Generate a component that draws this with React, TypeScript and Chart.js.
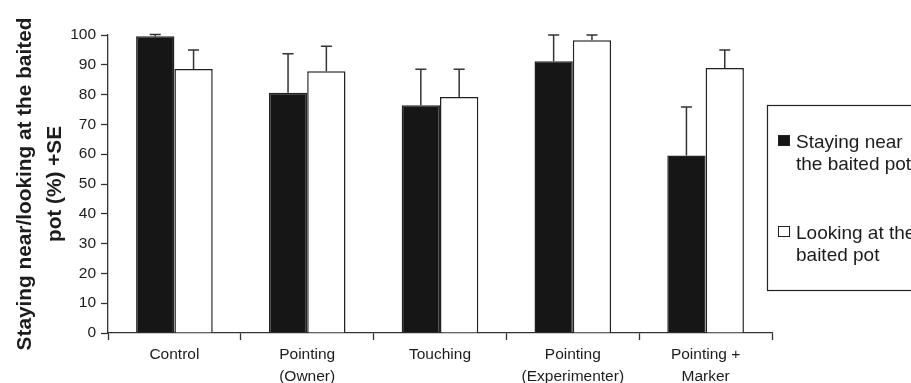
import React, { useEffect, useRef } from "react";
import { Chart, registerables } from "chart.js";

Chart.register(...registerables);

// Condition labels along the x axis (multi-line where wrapped)
const categories: string[][] = [
  ["Control"],
  ["Pointing", "(Owner)"],
  ["Touching"],
  ["Pointing", "(Experimenter)"],
  ["Pointing +", "Marker"],
];

// Mean percentages per condition
const stayingNear: number[] = [99.6, 80.6, 76.4, 91.2, 59.6];
const lookingAt: number[] = [88.6, 87.8, 79.2, 98.2, 88.9];

// Standard errors (drawn upward only)
const stayingNearSE: number[] = [0.6, 13.1, 12.1, 8.8, 16.2];
const lookingAtSE: number[] = [6.4, 8.4, 9.3, 1.8, 6.1];

// Legend text, one array of lines per series
const stayingNearLegend: string[] = ["Staying near", "the baited pot"];
const lookingAtLegend: string[] = ["Looking at the", "baited pot"];

// Y-axis title lines
const yTitle: string[] = ["Staying near/looking at the baited", "pot (%) +SE"];

const FONT = "'Liberation Sans', Arial, Helvetica, sans-serif";
const INK = "#1c1c1c";
const AXIS = "#333333";

const errorBarPlugin = {
  id: "errorBars",
  afterDatasetsDraw(chart: any) {
    const ctx = chart.ctx;
    const yScale = chart.scales.y;
    ctx.save();
    ctx.strokeStyle = AXIS;
    ctx.lineWidth = 1.5;
    chart.data.datasets.forEach((ds: any, i: number) => {
      const meta = chart.getDatasetMeta(i);
      meta.data.forEach((bar: any, j: number) => {
        const v = ds.data[j];
        const se = ds.se[j];
        const yTop = yScale.getPixelForValue(v + se);
        const yBar = yScale.getPixelForValue(v);
        const x = bar.x;
        ctx.beginPath();
        ctx.moveTo(x, yBar);
        ctx.lineTo(x, yTop);
        ctx.moveTo(x - 5.5, yTop);
        ctx.lineTo(x + 5.5, yTop);
        ctx.stroke();
      });
    });
    ctx.restore();
  },
};

const boxLegendPlugin = {
  id: "boxLegend",
  afterDraw(chart: any) {
    const ctx = chart.ctx;
    const area = chart.chartArea;
    const left = area.right - 5;
    const top = 105;
    const bottom = 290;
    ctx.save();
    ctx.strokeStyle = "#222";
    ctx.lineWidth = 1.2;
    ctx.strokeRect(left + 0.5, top + 0.5, 300, bottom - top);

    ctx.font = `19px ${FONT}`;
    ctx.textBaseline = "alphabetic";
    ctx.textAlign = "left";
    const rows = [
      { lines: chart.data.datasets[0].legendLines, y: 147.5 },
      { lines: chart.data.datasets[1].legendLines, y: 238.5 },
    ];
    rows.forEach((row, i) => {
      const ds = chart.data.datasets[i];
      const sx = left + 11;
      const sy = row.y - 12.5;
      ctx.fillStyle = ds.backgroundColor;
      ctx.fillRect(sx, sy, 12, 11);
      ctx.strokeStyle = "#222";
      ctx.lineWidth = 1;
      ctx.strokeRect(sx + 0.5, sy + 0.5, 11, 10);
      ctx.fillStyle = INK;
      row.lines.forEach((line: string, k: number) => {
        ctx.fillText(line, left + 29, row.y + k * 22.5);
      });
    });
    ctx.restore();
  },
};

function BarChart() {
  const canvasRef = useRef<HTMLCanvasElement | null>(null);

  useEffect(() => {
    if (!canvasRef.current) return;
    const chart = new Chart(canvasRef.current, {
      type: "bar",
      data: {
        labels: categories,
        datasets: [
          {
            label: stayingNearLegend.join(" "),
            data: stayingNear,
            se: stayingNearSE,
            legendLines: stayingNearLegend,
            backgroundColor: "#161616",
            borderColor: "#222",
            borderWidth: 1.5,
            barPercentage: 1,
            categoryPercentage: 0.577,
          } as any,
          {
            label: lookingAtLegend.join(" "),
            data: lookingAt,
            se: lookingAtSE,
            legendLines: lookingAtLegend,
            backgroundColor: "#ffffff",
            borderColor: "#222",
            borderWidth: 1.5,
            barPercentage: 1,
            categoryPercentage: 0.577,
          } as any,
        ],
      },
      options: {
        responsive: false,
        animation: false,
        devicePixelRatio: 1,
        layout: { padding: { top: 35, right: 139, left: 0, bottom: 0 } },
        plugins: {
          legend: { display: false },
          tooltip: { enabled: false },
        },
        scales: {
          x: {
            offset: true,
            grid: {
              offset: true,
              drawOnChartArea: false,
              drawTicks: true,
              tickLength: 7,
              tickColor: AXIS,
              tickWidth: 1.3,
            },
            border: { display: true, color: AXIS, width: 1.3 },
            ticks: {
              color: INK,
              padding: 4,
              maxRotation: 0,
              autoSkip: false,
              font: { family: FONT, size: 15.5, lineHeight: 1.42 },
            },
            afterFit(scale: any) {
              scale.height = 50;
            },
          },
          y: {
            min: 0,
            max: 100,
            ticks: {
              stepSize: 10,
              color: INK,
              padding: 5,
              font: { family: FONT, size: 15.5 },
            },
            grid: {
              drawOnChartArea: false,
              drawTicks: true,
              tickLength: 7,
              tickColor: AXIS,
              tickWidth: 1.3,
            },
            border: { display: true, color: AXIS, width: 1.3 },
            title: {
              display: true,
              text: yTitle,
              color: INK,
              padding: { top: 10, bottom: 0 },
              font: { family: FONT, size: 20.8, weight: "bold", lineHeight: 1.44 },
            },
            afterFit(scale: any) {
              scale.width = 108;
            },
          },
        },
      },
      plugins: [errorBarPlugin, boxLegendPlugin],
    });
    return () => chart.destroy();
  }, []);

  return <canvas ref={canvasRef} width={911} height={383} style={{ display: "block" }} />;
}

export default function App() {
  return (
    <div
      style={{
        position: "fixed",
        left: 0,
        top: 0,
        width: 911,
        height: 383,
        background: "#ffffff",
      }}
    >
      <BarChart />
    </div>
  );
}
